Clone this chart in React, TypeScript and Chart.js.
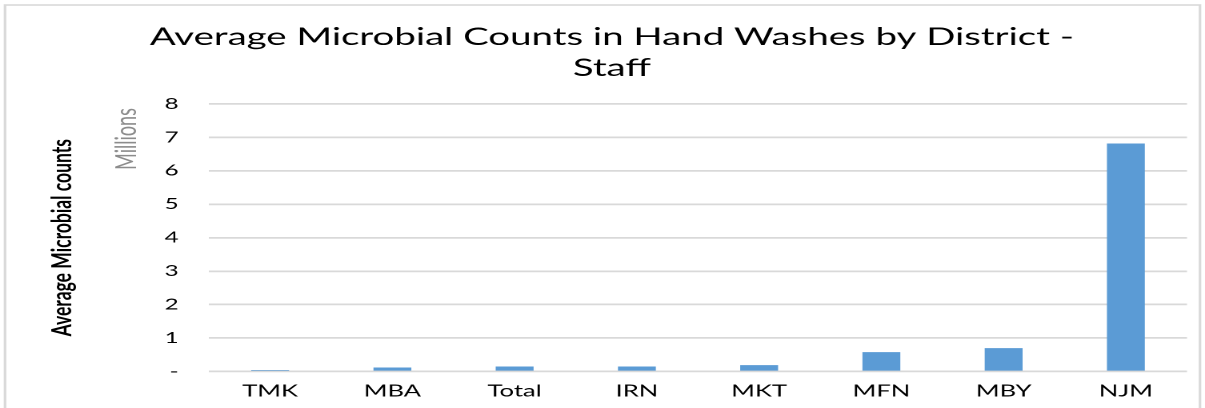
import React, { useEffect, useRef } from "react";
import { Chart, registerables } from "chart.js";

Chart.register(...registerables);

const categories: string[] = ["TMK", "MBA", "Total", "IRN", "MKT", "MFN", "MBY", "NJM"];
const averageCounts: number[] = [45000, 120000, 150000, 150000, 190000, 580000, 700000, 6820000];
const titleLines: string[] = ["Average Microbial Counts in Hand Washes by District -", "Staff"];
const yAxisTitle = "Average Microbial counts";
const unitLabel = "Millions";

// The reference image is horizontally stretched; render at a narrower logical width and stretch.
const OUT_W = 1205;
const OUT_H = 408;
const LOGICAL_W = 753;
const SX = OUT_W / LOGICAL_W;
const PAD_LEFT = 23;
const PAD_RIGHT = OUT_W / SX - 1187 / SX;

const FONT = "Lato, 'Open Sans', sans-serif";

export default function App() {
  const canvasRef = useRef<HTMLCanvasElement | null>(null);

  useEffect(() => {
    const canvas = canvasRef.current;
    if (!canvas) return;

    const frame = {
      id: "frame",
      beforeDraw(chart: any) {
        const ctx = chart.ctx;
        ctx.save();
        ctx.strokeStyle = "#d9d9d9";
        ctx.lineWidth = 1.6;
        ctx.strokeRect(5 / SX, 5, 1195 / SX, 420);
        ctx.restore();
      },
      afterDraw(chart: any) {
        const ctx = chart.ctx;
        ctx.save();
        ctx.translate(127 / SX, 139);
        ctx.rotate(-Math.PI / 2);
        ctx.fillStyle = "#8c8c8c";
        ctx.font = `normal 18px ${FONT}`;
        ctx.textAlign = "center";
        ctx.textBaseline = "middle";
        ctx.fillText(unitLabel, 0, 0);
        ctx.restore();
      },
    };

    const chart = new Chart(canvas, {
      type: "bar",
      data: {
        labels: categories,
        datasets: [
          {
            label: "Average Microbial counts",
            data: averageCounts,
            backgroundColor: "#5b9bd5",
            borderWidth: 0,
            barPercentage: 0.31,
            categoryPercentage: 1,
          },
        ],
      },
      options: {
        responsive: false,
        animation: false,
        devicePixelRatio: 2,
        layout: { padding: { left: PAD_LEFT, right: PAD_RIGHT, top: 0, bottom: 0 } },
        plugins: {
          legend: { display: false },
          tooltip: { enabled: false },
          title: {
            display: true,
            text: titleLines,
            color: "#000000",
            font: { family: FONT, size: 24, weight: "normal", lineHeight: 1.3 },
            padding: { top: 21.5, bottom: 20.1 },
          },
        },
        scales: {
          x: {
            grid: { display: false, drawTicks: false },
            border: { display: false },
            ticks: {
              color: "#000000",
              font: { family: FONT, size: 16 },
              padding: 10,
              maxRotation: 0,
              autoSkip: false,
            },
            afterFit(scale: any) {
              scale.height = OUT_H - 371.5;
            },
          },
          y: {
            min: 0,
            max: 8000000,
            grid: { color: "#d9d9d9", lineWidth: 1.8, drawTicks: false },
            border: { display: false },
            ticks: {
              stepSize: 1000000,
              color: "#000000",
              font: { family: FONT, size: 15 },
              padding: 19,
              callback: (v: any) => (Number(v) === 0 ? "-" : String(Number(v) / 1000000)),
            },
            title: {
              display: true,
              text: yAxisTitle,
              color: "#000000",
              font: { family: FONT, size: 17.5, weight: "bold", lineHeight: 1.2 },
              padding: { top: 28.3 - PAD_LEFT, bottom: 0 },
            },
            afterFit(scale: any) {
              scale.width = 209 / SX - PAD_LEFT;
            },
          },
        },
      },
      plugins: [frame],
    });

    return () => chart.destroy();
  }, []);

  return (
    <div style={{ position: "fixed", left: 0, top: 0, width: OUT_W, height: OUT_H, overflow: "hidden", background: "#ffffff" }}>
      <canvas
        ref={canvasRef}
        width={LOGICAL_W}
        height={OUT_H}
        style={{ width: `${OUT_W}px`, height: `${OUT_H}px`, display: "block" }}
      />
    </div>
  );
}
